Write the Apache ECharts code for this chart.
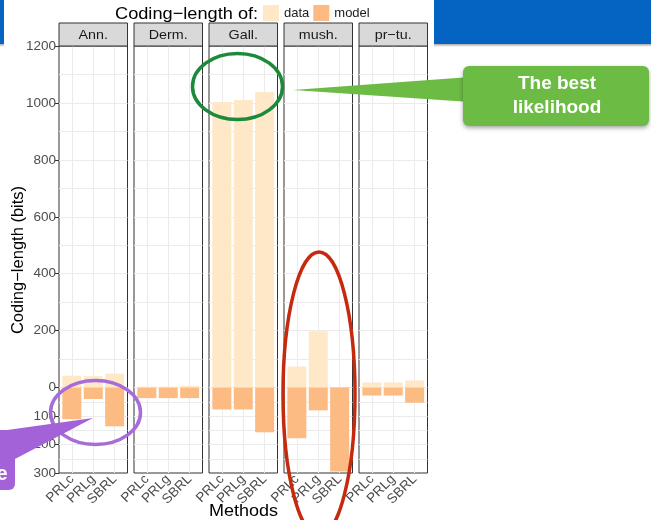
<!DOCTYPE html>
<html>
<head>
<meta charset="utf-8">
<script src="https://cdn.jsdelivr.net/npm/echarts@6/dist/echarts.min.js"></script>
<style>
  html, body { margin: 0; padding: 0; background: #fff; }
  #chart { width: 651px; height: 520px; }
</style>
</head>
<body>
<div id="chart"></div>
<script>
// Facets (datasets) and the methods compared inside each facet
const datasets = ['Ann.', 'Derm.', 'Gall.', 'mush.', 'pr\u2212tu.'];
const methods = ['PRLc', 'PRLg', 'SBRL'];
// Coding length of the data (drawn upwards), bits; one row per dataset
const dataBits = [
  [42, 40, 49],
  [3, 3, 6],
  [1003, 1010, 1038],
  [74, 198, 2],
  [18, 18, 25]
];
// Coding length of the model (drawn downwards), bits
const modelBits = [
  [111, 40, 136],
  [37, 37, 37],
  [77, 77, 157],
  [178, 80, 295],
  [28, 28, 53]
];
// Labelled y positions (negative side shows model bits as absolute values)
const yTicks = [-300, -200, -100, 0, 200, 400, 600, 800, 1000, 1200];
// Extra unlabelled grid lines
const yMinor = [-250, -150, -50, 100, 300, 500, 700, 900, 1100];

const FONT = 'Liberation Sans, Arial, Helvetica, sans-serif';
const PANEL_LEFT = 59, PANEL_STEP = 75, PANEL_W = 68.5, PANEL_TOP = 46, PANEL_H = 427;

const grids = [], xAxes = [], yAxes = [], series = [], graphics = [];

// slide header band behind the chart
graphics.push({ type: 'rect', z: -10, shape: { x: 0, y: 0, width: 651, height: 44 }, style: { fill: '#0563C1' } });
graphics.push({ type: 'rect', z: -10, shape: { x: 0, y: 44, width: 651, height: 3 },
  style: { fill: new echarts.graphic.LinearGradient(0, 0, 0, 1, [{ offset: 0, color: '#a9a9a9' }, { offset: 1, color: '#ffffff' }]) } });
graphics.push({ type: 'rect', z: -9, shape: { x: 4, y: 0, width: 430, height: 48 }, style: { fill: '#ffffff' } });

datasets.forEach((name, i) => {
  const left = PANEL_LEFT + PANEL_STEP * i;
  grids.push({
    left: left, top: PANEL_TOP, width: PANEL_W, height: PANEL_H,
    show: true, borderColor: '#333333', borderWidth: 1, backgroundColor: '#ffffff'
  });
  xAxes.push({
    type: 'value', gridIndex: i, min: 0.4, max: 3.6,
    axisLine: { show: false }, splitLine: { show: false },
    axisTick: { show: true, customValues: [1, 2, 3], length: 4, lineStyle: { color: '#333333' } },
    axisLabel: {
      customValues: [1, 2, 3], formatter: v => methods[Math.round(v) - 1] || '',
      rotate: 45, fontSize: 13.5, color: '#4D4D4D', margin: 4, fontFamily: FONT
    }
  });
  yAxes.push({
    type: 'value', gridIndex: i, min: -300, max: 1200, interval: 100,
    axisLine: { show: false }, splitLine: { show: false },
    axisTick: { show: i === 0, customValues: yTicks, length: 4, lineStyle: { color: '#333333' } },
    axisLabel: {
      show: i === 0, customValues: yTicks, formatter: v => String(Math.abs(v)),
      fontSize: 13.5, color: '#4D4D4D', margin: 3, fontFamily: FONT
    }
  });

  // panel grid lines, kept underneath the bars
  const lines = [];
  [1, 2, 3].forEach(x => lines.push({ xAxis: x }));
  yTicks.filter(v => v > -300 && v < 1200).concat(yMinor).forEach(v => lines.push({ yAxis: v }));
  series.push({
    type: 'line', xAxisIndex: i, yAxisIndex: i, data: [], z: 1, silent: true,
    markLine: {
      z: 1, silent: true, symbol: ['none', 'none'], animation: false,
      label: { show: false }, emphasis: { disabled: true },
      lineStyle: { color: '#EBEBEB', width: 1, type: 'solid' },
      data: lines
    }
  });
  series.push({
    type: 'bar', name: 'data', xAxisIndex: i, yAxisIndex: i, z: 3,
    barWidth: 19, barGap: '-100%',
    itemStyle: { color: '#FEE8C8' },
    data: methods.map((m, j) => [j + 1, dataBits[i][j]])
  });
  series.push({
    type: 'bar', name: 'model', xAxisIndex: i, yAxisIndex: i, z: 3,
    barWidth: 19, barGap: '-100%',
    itemStyle: { color: '#FDBB84' },
    data: methods.map((m, j) => [j + 1, -modelBits[i][j]])
  });

  // facet strip
  graphics.push({ type: 'rect', z: 5, shape: { x: left, y: 23, width: PANEL_W, height: 23 },
    style: { fill: '#D9D9D9', stroke: '#333333', lineWidth: 1 } });
  graphics.push({ type: 'text', z: 6, x: left + PANEL_W / 2, y: 35, scaleX: 1.06,
    style: { text: name, fill: '#1A1A1A', font: '13.5px ' + FONT, textAlign: 'center', textVerticalAlign: 'middle' } });
});

// legend title and axis titles
graphics.push({ type: 'text', z: 6, x: 115, y: 14, scaleX: 1.07,
  style: { text: 'Coding\u2212length of:', fill: '#000', font: '17px ' + FONT, textAlign: 'left', textVerticalAlign: 'middle' } });
graphics.push({ type: 'text', z: 6, x: 18, y: 260, rotation: Math.PI / 2,
  style: { text: 'Coding\u2212length (bits)', fill: '#000', font: '16.5px ' + FONT, textAlign: 'center', textVerticalAlign: 'middle' } });
graphics.push({ type: 'text', z: 6, x: 243.5, y: 511, scaleX: 1.06,
  style: { text: 'Methods', fill: '#000', font: '17px ' + FONT, textAlign: 'center', textVerticalAlign: 'middle' } });

// callouts
graphics.push({ type: 'ellipse', z: 50, shape: { cx: 237.5, cy: 86.5, rx: 45, ry: 33 },
  style: { fill: 'none', stroke: '#1B8A3A', lineWidth: 3.5 } });
graphics.push({ type: 'polygon', z: 50, shape: { points: [[293, 90], [470, 77], [470, 102]] },
  style: { fill: '#6CBB44' } });
graphics.push({ type: 'rect', z: 50, shape: { x: 463, y: 66, width: 186, height: 60, r: 6 },
  style: { fill: '#6CBB44', shadowBlur: 4, shadowOffsetY: 2, shadowColor: 'rgba(0,0,0,0.35)' } });
graphics.push({ type: 'text', z: 51, x: 557, y: 96,
  style: { text: 'The best\nlikelihood', fill: '#ffffff', font: 'bold 19px ' + FONT, lineHeight: 24,
    textAlign: 'center', textVerticalAlign: 'middle' } });

graphics.push({ type: 'ellipse', z: 50, shape: { cx: 319, cy: 394, rx: 36, ry: 142 },
  style: { fill: 'none', stroke: '#C62A0E', lineWidth: 3.5 } });

graphics.push({ type: 'ellipse', z: 50, shape: { cx: 95.5, cy: 412.5, rx: 45, ry: 32 },
  style: { fill: 'none', stroke: '#A86BDA', lineWidth: 3.5 } });
graphics.push({ type: 'polygon', z: 50, shape: { points: [[0, 431], [15, 459], [93, 418]] },
  style: { fill: '#A462D8' } });
graphics.push({ type: 'rect', z: 50, shape: { x: -100, y: 430, width: 115, height: 60, r: 6 },
  style: { fill: '#A462D8' } });
graphics.push({ type: 'text', z: 51, x: 7.5, y: 474,
  style: { text: 'e', fill: '#ffffff', font: 'bold 20px ' + FONT, textAlign: 'right', textVerticalAlign: 'middle' } });

const chart = echarts.init(document.getElementById('chart'), null, { renderer: 'canvas' });
chart.setOption({
  backgroundColor: '#ffffff',
  animation: false,
  textStyle: { fontFamily: FONT },
  legend: {
    data: ['data', 'model'], left: 263, top: 5, padding: 0,
    itemWidth: 16, itemHeight: 16, itemGap: 4, icon: 'rect', selectedMode: false,
    textStyle: { fontSize: 13, color: '#1A1A1A', fontFamily: FONT }
  },
  grid: grids,
  xAxis: xAxes,
  yAxis: yAxes,
  series: series,
  graphic: { elements: graphics }
});
</script>
</body>
</html>
